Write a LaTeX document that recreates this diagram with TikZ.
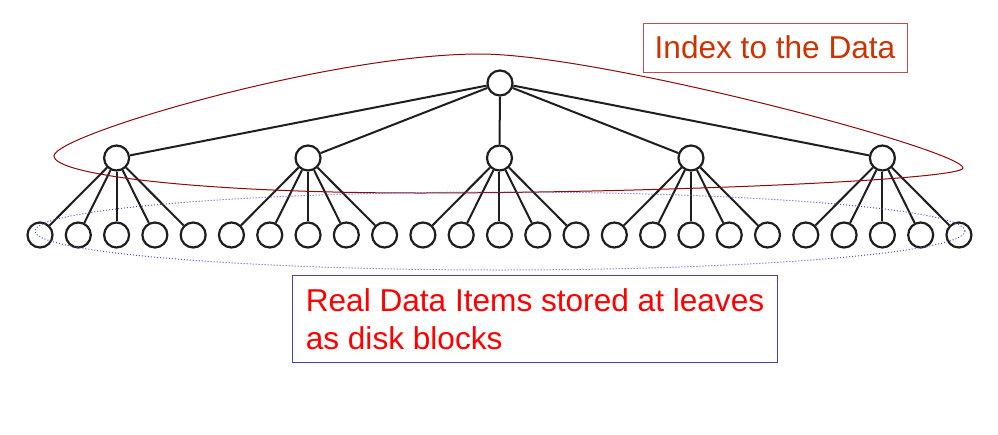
\documentclass[tikz,border=0pt]{standalone}
\usepackage{fontspec}
\setmainfont{Liberation Sans}
\definecolor{ellred}{RGB}{139,10,10}
\definecolor{boxred}{RGB}{180,80,80}
\definecolor{txtorange}{RGB}{204,51,0}
\definecolor{ellblue}{RGB}{80,80,215}
\definecolor{boxblue}{RGB}{64,64,200}
\definecolor{treeline}{RGB}{30,30,30}
\begin{document}
\begin{tikzpicture}[x=1pt,y=-1pt,
  tn/.style={circle, draw=treeline, line width=2.2pt, minimum size=25pt, inner sep=0pt},
  edge/.style={draw=treeline, line width=2pt},
  bigtext/.style={font=\fontsize{31.6}{38}\selectfont},
  redloop/.style={draw=ellred, line width=1pt},
  blueloop/.style={draw=ellblue, line width=1pt, dash pattern=on 1pt off 2pt}]
\useasboundingbox (0,0) rectangle (998,434);
% nodes
\node[tn] (r) at (500,83) {};
\foreach \j in {1,...,5}{
  \node[tn] (m\j) at ({40+38.29*(5*\j-3)},158) {};
}
\foreach \i in {0,...,24}{
  \node[tn] (l\i) at ({40+38.29*\i},235) {};
}
% edges
\foreach \j in {1,...,5}{
  \draw[edge] (r) -- (m\j);
  \foreach \k in {0,...,4}{
    \pgfmathtruncatemacro\idx{5*(\j-1)+\k}
    \draw[edge] (m\j) -- (l\idx);
  }
}
% red loop around the index
\coordinate (lt) at (54,156);
\coordinate (pk) at (480,54);
\coordinate (rt) at (963,168);
\coordinate (bm) at (420,193);
\draw[redloop] (lt) .. controls (54,135) and (330,54) .. (pk)
  .. controls (600,54) and (963,150) .. (rt)
  .. controls (963,180) and (650,193) .. (bm)
  .. controls (200,193) and (54,175) .. (lt) -- cycle;
% blue dotted loop around the leaves
\draw[blueloop] (500,231) ellipse [x radius=465pt, y radius=39pt];
% labels
\node[draw=boxred, line width=1pt, minimum width=264pt, minimum height=49pt, inner sep=0pt,
      text=txtorange, bigtext] (idx) at (775,47.5) {Index to the Data};
\node[draw=boxblue, line width=1pt, anchor=north west, minimum width=485pt, inner sep=0pt,
      minimum height=87pt, align=left, text=red, bigtext] (real) at (292,275)
      {Real Data Items stored at leaves\\as disk blocks};
\end{tikzpicture}
\end{document}
